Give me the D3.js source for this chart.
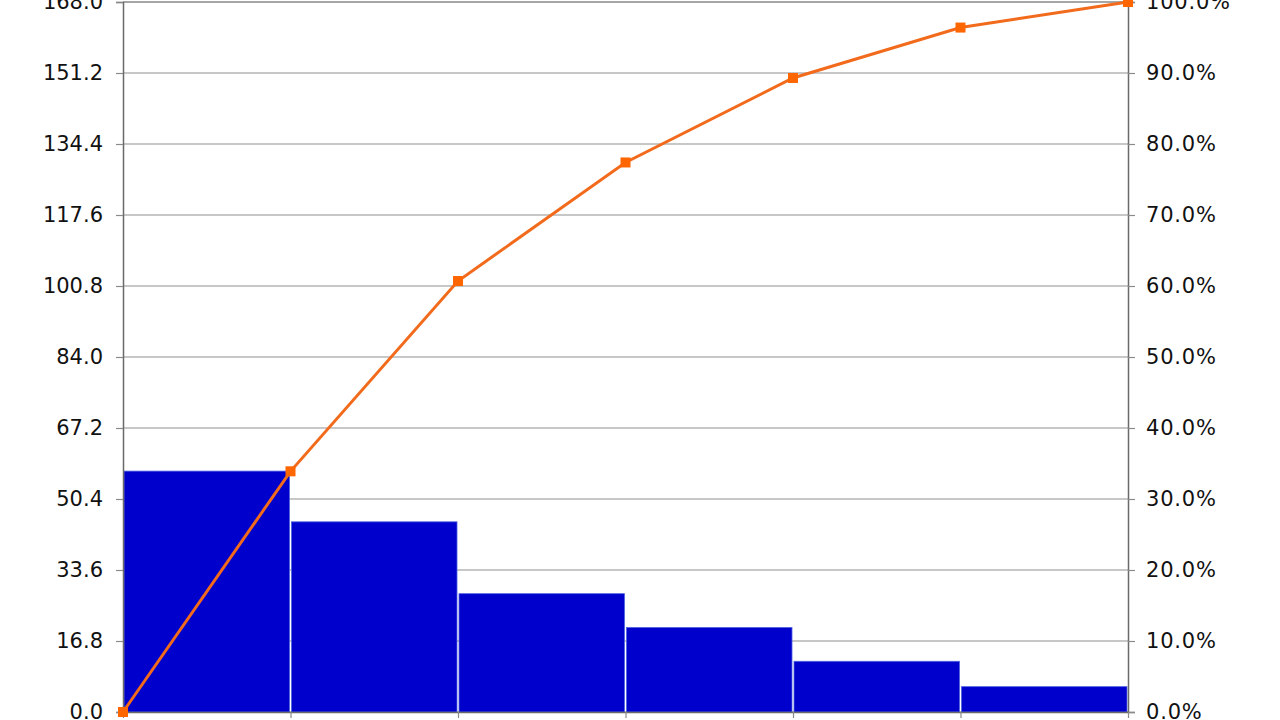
<!DOCTYPE html>
<html>
<head>
<meta charset="utf-8">
<script src="https://cdn.jsdelivr.net/npm/d3@7"></script>
<style>
    html, body { margin: 0; padding: 0; background: #fff; overflow: hidden; }
    svg text { font-family: "DejaVu Sans", Verdana, sans-serif; }
</style>
</head>
<body>
<div id="chart"></div>
<script>
// Pareto data
const categories = ["A", "B", "C", "D", "E", "F"];
const counts = [57, 45, 28, 20, 12, 6];
const cumulativePct = [0, 33.9, 60.7, 77.4, 89.3, 96.4, 100];
const leftTicks = [0, 16.8, 33.6, 50.4, 67.2, 84.0, 100.8, 117.6, 134.4, 151.2, 168.0];
const rightTicks = [0, 10, 20, 30, 40, 50, 60, 70, 80, 90, 100];

const width = 1280;
const height = 720;
const margin = { top: 2, right: 152, bottom: 8, left: 123 };

const svg = d3.select("#chart")
    .append("svg")
    .attr("width", width)
    .attr("height", height);

// boundaries between categories, 0..6
const xScale = d3.scaleLinear()
    .domain([0, categories.length])
    .range([margin.left, width - margin.right]);

const yScale = d3.scaleLinear()
    .domain([0, 168])
    .range([height - margin.bottom, margin.top]);

const pctScale = d3.scaleLinear()
    .domain([0, 100])
    .range([height - margin.bottom, margin.top]);

// Gridlines
svg.append("g")
    .selectAll("line")
    .data(leftTicks)
    .enter()
    .append("line")
    .attr("x1", margin.left)
    .attr("x2", width - margin.right)
    .attr("y1", d => yScale(d))
    .attr("y2", d => yScale(d))
    .attr("stroke", d => d === 168 ? "#888" : "#b4b4b4")
    .attr("stroke-width", 1.3);

// Bars
svg.selectAll(".bar")
    .data(counts)
    .enter()
    .append("rect")
    .attr("class", "bar")
    .attr("x", (d, i) => xScale(i) + 1)
    .attr("y", d => yScale(d))
    .attr("width", (d, i) => xScale(i + 1) - xScale(i) - 2)
    .attr("height", d => yScale(0) - yScale(d))
    .attr("fill", "#0000cc")
    .attr("stroke", "#4f63e0")
    .attr("stroke-width", 0.8);

// Left axis
const leftAxis = svg.append("g")
    .attr("transform", `translate(${margin.left},0)`)
    .call(d3.axisLeft(yScale).tickValues(leftTicks).tickFormat(d3.format(".1f")).tickSize(7).tickPadding(13));

// Right axis
const rightAxis = svg.append("g")
    .attr("transform", `translate(${width - margin.right},0)`)
    .call(d3.axisRight(pctScale).tickValues(rightTicks).tickFormat(d => d.toFixed(1) + "%").tickSize(7).tickPadding(11));

// Bottom axis with ticks at category boundaries
const bottomAxis = svg.append("g")
    .attr("transform", `translate(0,${height - margin.bottom})`)
    .call(d3.axisBottom(xScale).tickValues(d3.range(categories.length + 1)).tickFormat("").tickSize(6).tickSizeOuter(0));

[leftAxis, rightAxis, bottomAxis].forEach(g => {
    g.select(".domain").attr("stroke", "#6a6a6a").attr("stroke-width", 1.5);
    g.selectAll(".tick line").attr("stroke", "#8a8a8a").attr("stroke-width", 1.2);
    g.selectAll(".tick text")
        .style("font-size", "21px")
        .attr("fill", "#111");
});
rightAxis.selectAll(".tick text").style("letter-spacing", "0.8px");

// Cumulative percentage line
const line = d3.line()
    .x((d, i) => xScale(i))
    .y(d => pctScale(d));

svg.append("path")
    .datum(cumulativePct)
    .attr("fill", "none")
    .attr("stroke", "#f26a1b")
    .attr("stroke-width", 3)
    .attr("d", line);

svg.selectAll(".marker")
    .data(cumulativePct)
    .enter()
    .append("rect")
    .attr("class", "marker")
    .attr("x", (d, i) => xScale(i) - 5)
    .attr("y", d => pctScale(d) - 5)
    .attr("width", 10)
    .attr("height", 10)
    .attr("fill", "#ff6600");
</script>
</body>
</html>
